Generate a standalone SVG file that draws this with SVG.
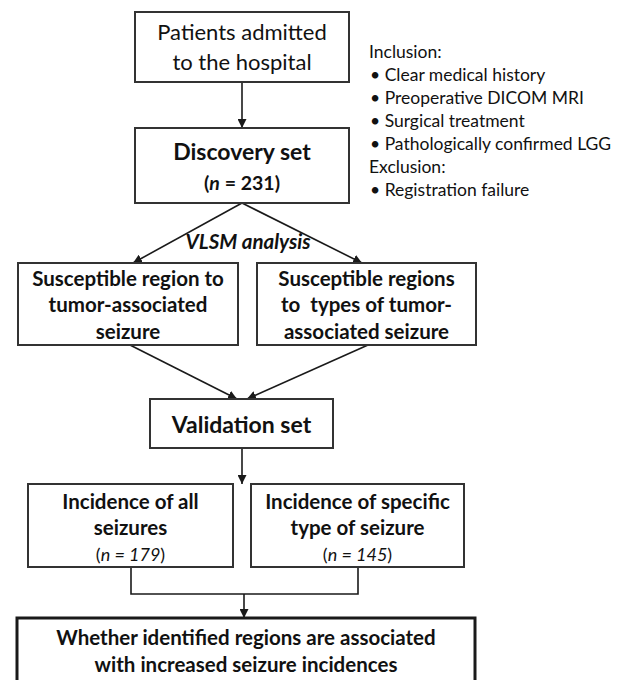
<svg xmlns="http://www.w3.org/2000/svg" width="620" height="680" viewBox="0 0 620 680">
<defs>
<marker id="ah" viewBox="0 0 10 10" refX="10" refY="5" markerWidth="9" markerHeight="9" markerUnits="userSpaceOnUse" orient="auto">
<path d="M0,0 L10,5 L0,10 z" fill="#1a1a1a"/>
</marker>
<style>
.box{fill:#fff;stroke:#333;stroke-width:2}
.thick{fill:#fff;stroke:#1a1a1a;stroke-width:3}
.ln{fill:none;stroke:#1a1a1a;stroke-width:1.6}
text{font-family:Lato,"Liberation Sans",sans-serif;fill:#111;text-anchor:middle}
.b{font-weight:bold}
.inc{font-size:17.5px;text-anchor:start}
</style>
</defs>
<rect width="620" height="680" fill="#fff"/>
<g id="connectors">
<line class="ln" x1="242" y1="82" x2="242" y2="128" marker-end="url(#ah)"/>
<line class="ln" x1="242" y1="203" x2="133" y2="263" marker-end="url(#ah)"/>
<line class="ln" x1="242" y1="203" x2="362" y2="263" marker-end="url(#ah)"/>
<line class="ln" x1="130" y1="345" x2="237" y2="399" marker-end="url(#ah)"/>
<line class="ln" x1="368" y1="345" x2="247" y2="399" marker-end="url(#ah)"/>
<line class="ln" x1="242" y1="448" x2="242" y2="484" marker-end="url(#ah)"/>
<polyline class="ln" points="131,567 131,594 358,594 358,567" stroke-width="2"/>
<line class="ln" x1="244" y1="594" x2="244" y2="618" marker-end="url(#ah)"/>
</g>
<g id="patients">
<rect class="box" x="135" y="12" width="214" height="70"/>
<text x="242" y="40" font-size="22">Patients admitted</text>
<text x="242" y="70" font-size="22">to the hospital</text>
</g>
<g id="discovery">
<rect class="box" x="135" y="128" width="214" height="75"/>
<text class="b" x="242" y="160" font-size="23">Discovery set</text>
<text class="b" x="242" y="190" font-size="19.5">(<tspan font-style="italic">n</tspan> = 231)</text>
</g>
<g id="criteria">
<text class="inc" x="369" y="58">Inclusion:</text>
<text class="inc" x="370" y="81">• Clear medical history</text>
<text class="inc" x="370" y="104">• Preoperative DICOM MRI</text>
<text class="inc" x="370" y="127">• Surgical treatment</text>
<text class="inc" x="370" y="150">• Pathologically confirmed LGG</text>
<text class="inc" x="369" y="173">Exclusion:</text>
<text class="inc" x="370" y="196">• Registration failure</text>
</g>
<g id="vlsm-label">
<text class="b" x="248" y="249" font-size="20.5" font-style="italic">VLSM analysis</text>
</g>
<g id="region">
<rect class="box" x="18" y="263" width="220" height="82"/>
<text class="b" x="128" y="286" font-size="20.5">Susceptible region to</text>
<text class="b" x="128" y="312" font-size="20.5">tumor-associated</text>
<text class="b" x="128" y="339" font-size="20.5">seizure</text>
</g>
<g id="regions-types">
<rect class="box" x="257" y="263" width="219" height="82"/>
<text class="b" x="366.5" y="286" font-size="20.5">Susceptible regions</text>
<text class="b" x="366.5" y="312" font-size="20.5" xml:space="preserve">to  types of tumor-</text>
<text class="b" x="366.5" y="339" font-size="20.5">associated seizure</text>
</g>
<g id="validation">
<rect class="box" x="150" y="399" width="183" height="49"/>
<text class="b" x="241.5" y="433" font-size="23">Validation set</text>
</g>
<g id="all-seizures">
<rect class="box" x="28" y="484" width="205" height="83"/>
<text class="b" x="130.5" y="509" font-size="20.5">Incidence of all</text>
<text class="b" x="130.5" y="535" font-size="20.5">seizures</text>
<text x="130.5" y="561" font-size="18">(<tspan font-style="italic">n = 179</tspan>)</text>
</g>
<g id="specific-type">
<rect class="box" x="251" y="484" width="213" height="83"/>
<text class="b" x="357.5" y="509" font-size="20.5">Incidence of specific</text>
<text class="b" x="357.5" y="535" font-size="20.5">type of seizure</text>
<text x="357.5" y="561" font-size="18">(<tspan font-style="italic">n = 145</tspan>)</text>
</g>
<g id="outcome">
<rect class="thick" x="17" y="618" width="458" height="80"/>
<text class="b" x="246" y="645" font-size="20.5">Whether identified regions are associated</text>
<text class="b" x="246" y="672" font-size="20.5">with increased seizure incidences</text>
</g>
</svg>
